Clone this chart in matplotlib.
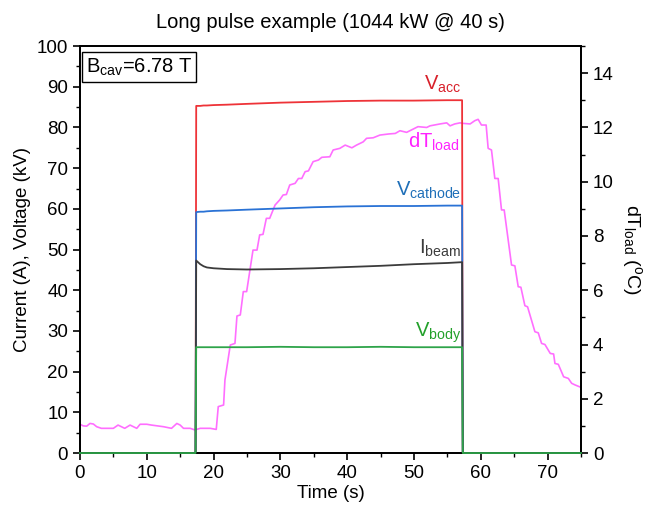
import matplotlib.pyplot as plt
import numpy as np
from matplotlib.ticker import MultipleLocator

plt.rcParams['font.family'] = ['Liberation Sans', 'DejaVu Sans']
plt.rcParams['mathtext.fontset'] = 'custom'
plt.rcParams['mathtext.rm'] = 'Liberation Sans'
plt.rcParams['mathtext.it'] = 'Liberation Sans'

## pulse traces (time in s, values in kV / A)
t_pulse = [0, 17.3, 17.4, 18, 18.5, 19, 20, 22, 25, 30, 35, 40, 45, 50, 55, 57.2, 57.3, 75]
vacc = [0, 0, 85.3, 85.3, 85.4, 85.4, 85.5, 85.6, 85.8, 86.1, 86.3, 86.5, 86.6, 86.6, 86.7, 86.7, 0, 0]
vcath = [0, 0, 59.2, 59.3, 59.3, 59.4, 59.5, 59.6, 59.8, 60.1, 60.4, 60.6, 60.7, 60.7, 60.8, 60.8, 0, 0]
ibeam = [0, 0, 47.3, 46.4, 45.9, 45.6, 45.4, 45.2, 45.1, 45.2, 45.4, 45.7, 46.0, 46.4, 46.7, 46.9, 0, 0]
vbody = [0, 0, 26.0, 26.0, 26.0, 26.0, 26.0, 26.0, 26.0, 26.1, 26.0, 26.0, 26.1, 26.0, 26.0, 26.0, 0, 0]

## load temperature rise (degC)
t_dt = [0, 0.5, 1.0, 1.5, 2.0, 2.5, 3.2, 4.2, 5.0, 5.7, 6.2, 6.7, 7.5, 8.0, 8.5, 9.0,
        10.0, 10.7, 12.5, 13.7, 14.5, 15.0, 15.5, 16.5, 17.2, 18.0, 19.5, 20.4, 20.7,
        21.5, 21.7, 22.5, 23.2, 23.5, 24.0, 24.45, 24.95, 25.9, 26.5, 26.9, 27.4, 27.9,
        28.4, 29.2, 29.9, 30.4, 30.9, 31.4, 32.2, 32.7, 33.2, 33.7, 34.2, 34.9, 35.7,
        36.2, 37.4, 37.9, 38.9, 39.7, 40.7, 41.4, 42.4, 42.9, 43.9, 44.9, 46.2, 47.2,
        47.9, 48.9, 50.6, 51.9, 52.4, 53.9, 54.9, 55.4, 56.1, 56.9, 57.4, 58.4, 59.1,
        59.6, 60.1, 60.8, 61.1, 61.6, 62.1, 62.6, 63.1, 63.5, 64.6, 65.1, 65.6, 66.0,
        66.6, 67.0, 68.1, 68.6, 69.1, 69.6, 70.4, 70.9, 71.1, 71.6, 72.4, 73.1, 73.6,
        74.1, 74.8, 75.0]
dt_load = [1.06, 1.0, 0.99, 1.09, 1.07, 0.97, 0.91, 0.91, 0.91, 1.03, 0.97, 0.91, 1.03,
           0.97, 0.91, 1.06, 1.06, 1.03, 0.97, 0.91, 1.09, 1.03, 0.91, 0.91, 0.85, 0.91,
           0.91, 0.87, 1.71, 1.77, 2.69, 3.98, 4.04, 5.05, 5.09, 5.95, 5.95, 7.48, 7.48,
           8.04, 8.06, 8.65, 8.65, 9.14, 9.33, 9.51, 9.53, 9.88, 9.94, 10.12, 10.12,
           10.37, 10.4, 10.74, 10.8, 10.9, 10.92, 11.17, 11.23, 11.35, 11.25, 11.35,
           11.47, 11.6, 11.62, 11.72, 11.76, 11.78, 11.88, 11.82, 12.03, 12.0, 12.06,
           12.13, 12.17, 12.06, 12.13, 12.17, 12.15, 12.13, 12.25, 12.3, 12.09, 12.09,
           11.23, 11.17, 10.12, 10.12, 8.96, 8.96, 6.93, 6.9, 6.13, 6.11, 5.43, 5.39,
           4.47, 4.43, 4.04, 4.0, 3.67, 3.65, 3.3, 3.27, 2.81, 2.75, 2.57, 2.51, 2.44, 2.42]

fig = plt.figure(figsize=(6.47, 5.12), dpi=100)
ax = fig.add_axes([0.1236, 0.1152, 0.7744, 0.7948])
ax2 = ax.twinx()
ax.set_zorder(ax2.get_zorder() + 1)
ax.patch.set_visible(False)

ax2.plot(t_dt, dt_load, '-', color='#ff6eff', lw=1.2)
ax.plot(t_pulse, vacc, '-', color='#ee3338', lw=1.3)
ax.plot(t_pulse, vcath, '-', color='#2a72d5', lw=1.3)
ax.plot(t_pulse, ibeam, '-', color='#3c3c3c', lw=1.3)
ax.plot(t_pulse, vbody, '-', color='#2ea44a', lw=1.3, zorder=3, clip_on=False)

ax.set_xlim(0, 75)
ax.set_ylim(0, 100)
ax2.set_ylim(0, 15)
ax.xaxis.set_major_locator(MultipleLocator(10))
ax.xaxis.set_minor_locator(MultipleLocator(5))
ax.yaxis.set_major_locator(MultipleLocator(10))
ax.yaxis.set_minor_locator(MultipleLocator(5))
ax2.yaxis.set_major_locator(MultipleLocator(2))
ax2.yaxis.set_minor_locator(MultipleLocator(1))
for a in (ax, ax2):
    a.tick_params(which='major', direction='out', length=5, width=1.2, labelsize=13.5)
    a.tick_params(which='minor', direction='out', length=3, width=1.0)
    for s in a.spines.values():
        s.set_linewidth(1.3)
ax.tick_params(axis='both', which='both', top=False, right=False)
ax2.tick_params(axis='y', which='both', left=False)

ax.set_xlabel('Time (s)', fontsize=13.5, labelpad=2)
ax.set_ylabel('Current (A), Voltage (kV)', fontsize=13.5)
ax2.set_ylabel('dT$_{\\mathrm{load}}$ ($^{\\mathrm{o}}$C)', fontsize=14, rotation=270, labelpad=22)
ax.set_title('Long pulse example (1044 kW @ 40 s)', fontsize=14.5, pad=13)

ax.text(57.0, 90.5, 'V$_{\\mathrm{acc}}$', color='#d8202a', fontsize=14.5, ha='right', va='center')
ax.text(56.8, 76.5, 'dT$_{\\mathrm{load}}$', color='#ff22ff', fontsize=14.5, ha='right', va='center')
ax.text(57.0, 64.5, 'V$_{\\mathrm{cathode}}$', color='#1f6fb8', fontsize=14.5, ha='right', va='center')
ax.text(57.0, 50.3, 'I$_{\\mathrm{beam}}$', color='#3c3c3c', fontsize=14.5, ha='right', va='center')
ax.text(57.0, 29.5, 'V$_{\\mathrm{body}}$', color='#22a02a', fontsize=14.5, ha='right', va='center')

ax.text(0.012, 0.975, 'B$_{\\mathrm{cav}}$=6.78 T', transform=ax.transAxes, fontsize=14.5,
        ha='left', va='top',
        bbox=dict(boxstyle='square,pad=0.2', facecolor='white', edgecolor='k', linewidth=1))

plt.savefig('out.png', dpi=100)
